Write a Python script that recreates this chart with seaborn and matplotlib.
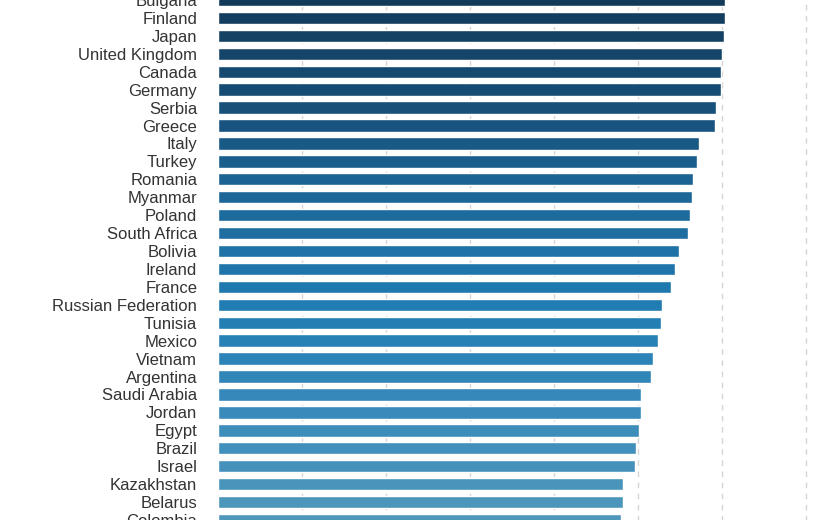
import matplotlib
matplotlib.use("Agg")
import matplotlib.pyplot as plt
import seaborn as sns
import pandas as pd

countries = ["Bulgaria", "Finland", "Japan", "United Kingdom", "Canada", "Germany",
             "Serbia", "Greece", "Italy", "Turkey", "Romania", "Myanmar", "Poland",
             "South Africa", "Bolivia", "Ireland", "France", "Russian Federation",
             "Tunisia", "Mexico", "Vietnam", "Argentina", "Saudi Arabia", "Jordan",
             "Egypt", "Brazil", "Israel", "Kazakhstan", "Belarus", "Colombia"]
values = [60.4, 60.3, 60.2, 60.0, 59.9, 59.9, 59.3, 59.2, 57.3, 57.0, 56.5, 56.4,
          56.2, 55.9, 54.9, 54.4, 53.9, 52.8, 52.7, 52.4, 51.8, 51.5, 50.4, 50.3,
          50.1, 49.8, 49.6, 48.2, 48.2, 48.0]
grid_ticks = [10, 20, 30, 40, 50, 60, 70]

df = pd.DataFrame({"country": countries, "value": values})

sns.set_theme(style="white")
plt.rcParams["font.family"] = ["Liberation Sans", "DejaVu Sans"]

fig = plt.figure(figsize=(8.4, 5.2), dpi=100)
# axes extend slightly past the figure edges so the cut-off rows still get labels
ax = fig.add_axes([218 / 840, -20 / 520, 1 - 218 / 840, 542 / 520])

palette = sns.blend_palette(["#123b5a", "#174f78", "#1d6a9c", "#217db3", "#3a8bbb", "#5098bb"],
                            n_colors=len(countries))

sns.barplot(data=df, x="value", y="country", hue="country", palette=palette,
            legend=False, width=0.69, saturation=1, ax=ax, zorder=2)

ax.set_xlim(0, (840 - 218) / 8.4)
ax.set_ylim(540 / 17.93, -2 / 17.93)
ax.set_xticks(grid_ticks)
ax.xaxis.grid(True, color="#d4d4d4", linestyle=(0, (4, 4)), linewidth=1.0, zorder=0)
ax.yaxis.grid(False)
ax.set_axisbelow(True)
ax.tick_params(axis="x", labelbottom=False, length=0)
ax.tick_params(axis="y", length=0, pad=15, labelsize=12, labelcolor="#333333")
ax.set_xlabel("")
ax.set_ylabel("")
for s in ax.spines.values():
    s.set_visible(False)

fig.savefig("out.png", dpi=100)
